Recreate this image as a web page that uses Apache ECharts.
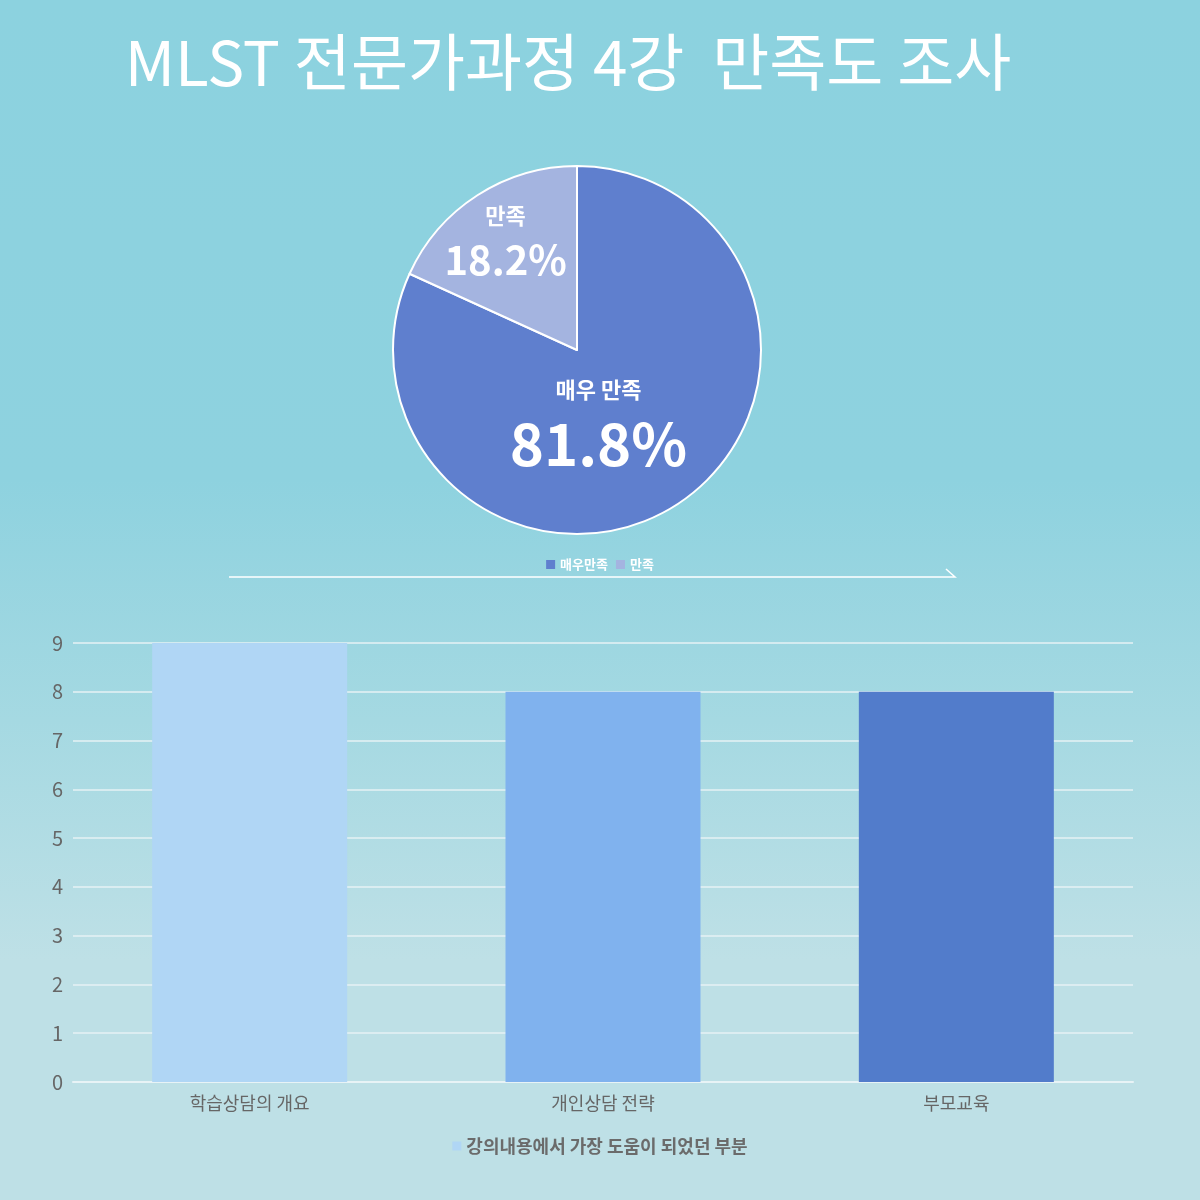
<!DOCTYPE html>
<html><head><meta charset="utf-8">
<script src="https://cdn.jsdelivr.net/npm/echarts@6/dist/echarts.min.js"></script>
<style>html,body{margin:0;padding:0}#c{width:1200px;height:1200px;background:linear-gradient(#8CD2DF 0%,#8ED2DF 40%,#A5D9E2 60%,#BEE0E6 80%,#BEE0E6 100%)}</style>
</head><body><div id="c"></div>
<script>
const pieNames = ['매우만족', '만족'];
const pieLabels = ['매우 만족', '만족'];
const pieValues = [81.8, 18.2];
const barCategories = ['학습상담의 개요', '개인상담 전략', '부모교육'];
const barValues = [9, 8, 8];
const barSeriesName = '강의내용에서 가장 도움이 되었던 부분';
const yTicks = [0, 9, 1];

const font = 'Noto Sans CJK KR';
const chart = echarts.init(document.getElementById('c'));
chart.setOption({
  textStyle: { fontFamily: font },
  title: { text: 'MLST 전문가과정 4강  만족도 조사', left: 563, top: 26, textAlign: 'center',
    textStyle: { color: '#fff', fontSize: 62, fontWeight: 'normal', fontFamily: font } },
  color: ['#5F7FCE', '#A4B4E0'],
  legend: [
    { data: pieNames, top: 553, left: 'center', itemWidth: 9, itemHeight: 9, itemGap: 8,
      itemStyle: { borderWidth: 0 },
      textStyle: { color: '#fff', fontSize: 13, fontWeight: 'bold' }, icon: 'rect' },
    { data: [barSeriesName], top: 1132, left: 'center', itemWidth: 9, itemHeight: 9, icon: 'rect',
      textStyle: { color: '#6b6b6b', fontSize: 18, fontWeight: 'bold' } }
  ],
  series: [{
    type: 'pie', center: [577, 350], radius: [0, 184], startAngle: 90, clockwise: true,
    itemStyle: { borderColor: '#fff', borderWidth: 2 },
    label: { position: 'inside', formatter: p => '{a|' + pieLabels[p.dataIndex] + '}\n{b|' + p.value.toFixed(1) + '%}',
      rich: {
        a: { color: '#fff', fontSize: 22, fontWeight: 'bold', fontFamily: font, lineHeight: 40 },
        b: { color: '#fff', fontSize: 40, fontWeight: 'bold', fontFamily: font, lineHeight: 48 }
      } },
    labelLine: { show: false },
    emphasis: { disabled: true },
    data: pieNames.map((n, i) => ({ name: n, value: pieValues[i],
      label: i === 0
        ? { offset: [-30, -8], rich: { a: { color:'#fff', fontSize: 22, fontWeight:'bold', lineHeight: 44 }, b: { color:'#fff', fontSize: 58, fontWeight:'bold', lineHeight: 64 } } }
        : { offset: [-20, -30] } }))
  }, {
    type: 'bar', name: barSeriesName, barWidth: 195,
    itemStyle: { color: '#B0D6F5' },
    data: barValues.map((v, i) => ({ value: v, itemStyle: { color: ['#B0D6F5', '#80B2EE', '#527CCB'][i] } }))
  }],
  grid: { left: 73, right: 67, top: 643, bottom: 118 },
  xAxis: { type: 'category', data: barCategories,
    axisLine: { lineStyle: { color: '#e8f3f6', width: 2 } }, axisTick: { show: false },
    axisLabel: { color: '#666', fontSize: 18, margin: 12 } },
  yAxis: { type: 'value', min: yTicks[0], max: yTicks[1], interval: yTicks[2],
    axisLine: { show: false }, axisTick: { show: false },
    splitLine: { lineStyle: { color: '#e6f2f5', width: 1.5 } },
    axisLabel: { color: '#666', fontSize: 20, margin: 10 } },
  graphic: [{ type: 'polyline', shape: { points: [[229, 577], [955, 577], [946, 569]] },
    style: { stroke: '#fff', lineWidth: 1.5, fill: null } }]
});
</script></body></html>
